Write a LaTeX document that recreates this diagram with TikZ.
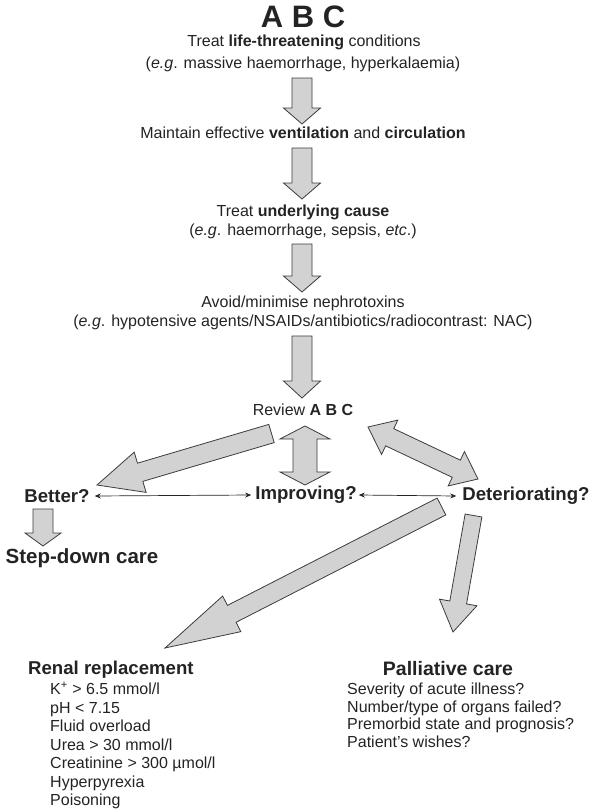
\documentclass[tikz,border=0pt]{standalone}
\usepackage{fontspec}
\setmainfont{Liberation Sans}
\usetikzlibrary{calc,arrows.meta}
\definecolor{txt}{RGB}{35,35,35}
\definecolor{afill}{RGB}{210,210,210}
\definecolor{aline}{RGB}{60,60,60}
\tikzset{
  blk/.style={fill=afill,draw=aline,line width=0.8pt,line join=miter},
  lbl/.style={text=txt,inner sep=0pt,font=\fontsize{16}{19}\selectfont},
  big/.style={text=txt,inner sep=0pt,font=\fontsize{18.6}{22}\selectfont\bfseries},
  item/.style={text=txt,inner sep=0pt,anchor=base west,font=\fontsize{16}{19}\selectfont},
  thinarr/.style={draw=txt,line width=0.7pt,{Stealth[length=6pt,width=5pt]}-{Stealth[length=6pt,width=5pt]}}
}
\newcommand{\barrow}[5]{%
  \coordinate (hb) at ($(#2)!#5!(#1)$);
  \draw[blk] ($(#1)!#3!90:(#2)$) -- ($(hb)!#3!90:(#2)$) -- ($(hb)!#4!90:(#2)$) -- (#2)
    -- ($(hb)!#4!-90:(#2)$) -- ($(hb)!#3!-90:(#2)$) -- ($(#1)!#3!-90:(#2)$) -- cycle;
}
\newcommand{\dbarrow}[5]{%
  \coordinate (ha) at ($(#1)!#5!(#2)$);
  \coordinate (hb) at ($(#2)!#5!(#1)$);
  \draw[blk] (#1) -- ($(ha)!#4!90:(#2)$) -- ($(ha)!#3!90:(#2)$) -- ($(hb)!#3!-90:(#1)$)
    -- ($(hb)!#4!-90:(#1)$) -- (#2) -- ($(hb)!#4!90:(#1)$) -- ($(hb)!#3!90:(#1)$)
    -- ($(ha)!#3!-90:(#2)$) -- ($(ha)!#4!-90:(#2)$) -- cycle;
}
\begin{document}
\begin{tikzpicture}[x=1pt,y=-1pt]
\useasboundingbox (0,0) rectangle (591,809);
% texts
\node[text=txt,inner sep=0pt,font=\fontsize{31}{35}\selectfont\bfseries] (abc) at (303,17) {A B C};
\node[lbl] (t1) at (304,42) {Treat \textbf{life-threatening} conditions};
\node[lbl] (t2) at (303,64) {(\textit{e.g}. massive haemorrhage, hyperkalaemia)};
\node[lbl] (m) at (303,133) {Maintain effective \textbf{ventilation} and \textbf{circulation}};
\node[lbl] (u1) at (303,212) {Treat \textbf{underlying cause}};
\node[lbl] (u2) at (303,231) {(\textit{e.g}. haemorrhage, sepsis, \textit{etc}.)};
\node[lbl] (n1) at (303,303) {Avoid/minimise nephrotoxins};
\node[lbl] (n2) at (303,322) {(\textit{e.g}. hypotensive agents/NSAIDs/antibiotics/radiocontrast: NAC)};
\node[lbl] (rev) at (303,410) {Review \textbf{A B C}};
\node[big] (better) at (57,496) {Better?};
\node[big] (imp) at (306,495) {Improving?};
\node[big] (det) at (526,496) {Deteriorating?};
\node[big,font=\fontsize{20.5}{24}\selectfont\bfseries] (step) at (82,558) {Step-down care};
\node[big,anchor=base west] (renal) at (28,674) {Renal replacement};
\node[big,anchor=base,font=\fontsize{19.5}{23}\selectfont\bfseries] (pall) at (448,675) {Palliative care};
\node[item] (r1) at (50,694.5) {K\textsuperscript{+} > 6.5 mmol/l};
\node[item] (r2) at (50,713) {pH < 7.15};
\node[item] (r3) at (50,731.5) {Fluid overload};
\node[item] (r4) at (50,750) {Urea > 30 mmol/l};
\node[item] (r5) at (50,768.5) {Creatinine > 300 µmol/l};
\node[item] (r6) at (50,787) {Hyperpyrexia};
\node[item] (r7) at (50,805.5) {Poisoning};
\node[item] (p1) at (347,694.5) {Severity of acute illness?};
\node[item] (p2) at (347,712) {Number/type of organs failed?};
\node[item] (p3) at (347,729.5) {Premorbid state and prognosis?};
\node[item] (p4) at (347,747) {Patient’s wishes?};
% arrow end points
\coordinate (a1s) at (302,78);  \coordinate (a1e) at (302,124);
\coordinate (a2s) at (302,148); \coordinate (a2e) at (302,199);
\coordinate (a3s) at (302,244); \coordinate (a3e) at (302,292);
\coordinate (a4s) at (302,336); \coordinate (a4e) at (302,398);
\coordinate (vA) at (305,426); \coordinate (vB) at (305,485);
\coordinate (bs) at (271.5,433.5); \coordinate (be) at (97,485);
\coordinate (dA) at (368,427); \coordinate (dB) at (478,479);
\coordinate (rs) at (441.5,506.5); \coordinate (re) at (165,648);
\coordinate (ps) at (473.5,515.5); \coordinate (pe) at (453,632);
\coordinate (ss) at (43,509); \coordinate (se) at (43,546);
% block arrows
\barrow{a1s}{a1e}{10pt}{18.5pt}{16pt}
\barrow{a2s}{a2e}{10pt}{18.5pt}{16pt}
\barrow{a3s}{a3e}{10pt}{18.5pt}{16pt}
\barrow{a4s}{a4e}{10pt}{18.5pt}{17pt}
\dbarrow{vA}{vB}{12pt}{25pt}{13pt}
\barrow{bs}{be}{9.5pt}{21pt}{45pt}
\dbarrow{dA}{dB}{9.5pt}{19pt}{24pt}
\barrow{rs}{re}{9.5pt}{20pt}{75pt}
\barrow{ps}{pe}{8.5pt}{19pt}{30pt}
\barrow{ss}{se}{10pt}{18pt}{13pt}
% thin arrows
\draw[thinarr] ([xshift=5pt]better.east) -- ([xshift=-4pt]imp.west);
\draw[thinarr] ([xshift=2pt]imp.east) -- ([xshift=-6pt]det.west);
\end{tikzpicture}
\end{document}
